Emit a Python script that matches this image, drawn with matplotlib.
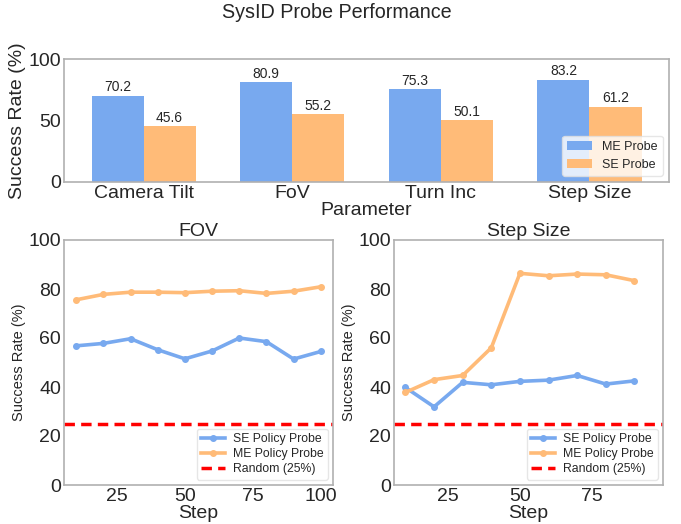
import matplotlib
matplotlib.use("Agg")
import matplotlib.pyplot as plt
import numpy as np

# top panel: probe accuracy per parameter
params = ["Camera Tilt", "FoV", "Turn Inc", "Step Size"]
me_probe = [70.2, 80.9, 75.3, 83.2]
se_probe = [45.6, 55.2, 50.1, 61.2]

# bottom panels: policy probe over training steps
fov_steps = [10, 20, 30, 40, 50, 60, 70, 80, 90, 100]
fov_se = [56.8, 57.8, 59.7, 55.2, 51.5, 54.7, 60.0, 58.5, 51.4, 54.5]
fov_me = [75.6, 77.8, 78.7, 78.7, 78.5, 79.1, 79.3, 78.2, 79.1, 80.9]

step_steps = [10, 20, 30, 40, 50, 60, 70, 80, 90]
step_se = [39.8, 31.9, 41.9, 40.9, 42.3, 42.8, 44.7, 41.2, 42.5]
step_me = [37.8, 43.0, 44.7, 56.0, 86.4, 85.4, 86.1, 85.8, 83.4]

random_level = 25

BLUE = "#78a9ef"
ORANGE = "#ffbb78"
TXT = "#262626"

plt.rcParams["font.family"] = ["Liberation Sans", "DejaVu Sans"]
plt.rcParams["text.color"] = TXT
plt.rcParams["axes.labelcolor"] = TXT
plt.rcParams["xtick.color"] = TXT
plt.rcParams["ytick.color"] = TXT
plt.rcParams["axes.edgecolor"] = "#b0b0b0"
plt.rcParams["axes.linewidth"] = 1.2
plt.rcParams["xtick.major.size"] = 0
plt.rcParams["ytick.major.size"] = 0

W, H = 681, 524
fig = plt.figure(figsize=(W / 100, H / 100), dpi=100)


def box(x0, y0, x1, y1):
    return [x0 / W, (H - y1) / H, (x1 - x0) / W, (y1 - y0) / H]


fig.text(0.495, 1 - 13 / H, "SysID Probe Performance", ha="center", va="center", fontsize=14.2)

# --- top bar chart ---
ax = fig.add_axes(box(64, 59, 669, 182))
x = np.arange(len(params))
w = 0.35
b1 = ax.bar(x - w / 2, me_probe, w, color=BLUE, label="ME Probe")
b2 = ax.bar(x + w / 2, se_probe, w, color=ORANGE, label="SE Probe")
for bars in (b1, b2):
    for r in bars:
        ax.text(r.get_x() + r.get_width() / 2, r.get_height() + 1, f"{r.get_height():.1f}",
                ha="center", va="bottom", fontsize=10)
ax.set_xticks(x)
ax.set_xticklabels(params, fontsize=14)
ax.set_ylim(0, 100)
ax.set_yticks([0, 50, 100])
ax.tick_params(axis="y", labelsize=14, pad=2)
ax.tick_params(axis="x", pad=2)
ax.set_ylabel("Success Rate (%)", fontsize=14, labelpad=2)
ax.set_xlabel("Parameter", fontsize=14, labelpad=0)
ax.legend(loc="lower right", fontsize=9, framealpha=0.8, edgecolor="#e0e0e0",
          borderaxespad=0.5)


def line_panel(pos, title, steps, se, me):
    a = fig.add_axes(pos)
    a.plot(steps, se, color=BLUE, lw=2.6, marker="o", ms=4, label="SE Policy Probe")
    a.plot(steps, me, color=ORANGE, lw=2.6, marker="o", ms=4, label="ME Policy Probe")
    a.axhline(random_level, color="red", lw=2.5, ls="--", dashes=(3, 1.8), label="Random (25%)")
    a.set_ylim(0, 100)
    a.set_xticks([25, 50, 75, 100])
    a.set_title(title, fontsize=14, pad=0)
    a.set_xlabel("Step", fontsize=14, labelpad=0)
    a.set_ylabel("Success Rate (%)", fontsize=10.5, labelpad=2)
    a.tick_params(labelsize=14, pad=2)
    a.legend(loc="lower right", fontsize=8.8, framealpha=0.8, edgecolor="#e0e0e0",
             labelspacing=0.25, borderpad=0.35, borderaxespad=0.45, handletextpad=0.6)
    return a


line_panel(box(64, 240, 333, 485), "FOV", fov_steps, fov_se, fov_me)
a2 = line_panel(box(394, 240, 663, 485), "Step Size", step_steps, step_se, step_me)
a2.set_xticks([25, 50, 75])

fig.savefig("out.png", dpi=100)
